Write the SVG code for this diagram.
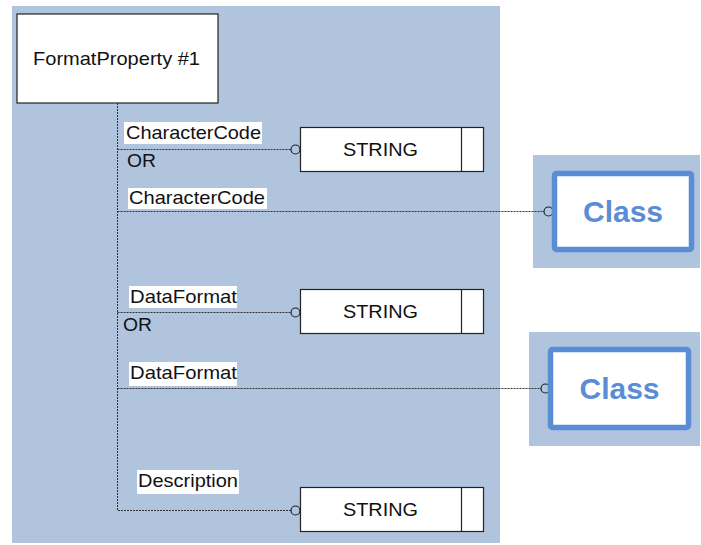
<svg xmlns="http://www.w3.org/2000/svg" width="701" height="545" viewBox="0 0 701 545">
<style>
.bg{fill:#B0C4DE}
.box{fill:#fff;stroke:#222;stroke-width:1.2}
.t{font-family:"Liberation Sans",Arial,sans-serif;font-size:18.5px;fill:#111}
.lbl{fill:#fff}
.cls{fill:#fff;stroke:#5A8DD6;stroke-width:5.5}
.ct{font-family:"Liberation Sans",Arial,sans-serif;font-size:30px;font-weight:bold;fill:#5A8DD6}
.c{fill:none;stroke:#333;stroke-dasharray:2,1;stroke-width:1}
.end{fill:#B0C4DE;stroke:#222;stroke-width:1.2}
</style>
<rect class="bg" x="12" y="6" width="488" height="537"/>
<rect class="bg" x="533" y="155" width="167" height="113"/>
<rect class="bg" x="529" y="332" width="171" height="114"/>
<g id="connectors">
<path class="c" d="M117.5,103 V510.5 H291"/>
<path class="c" d="M117.5,149.5 H291"/>
<path class="c" d="M117.5,211.5 H544"/>
<path class="c" d="M117.5,312.5 H291"/>
<path class="c" d="M117.5,388.5 H541"/>
<circle class="end" cx="295.5" cy="149.5" r="4.5"/>
<circle class="end" cx="548.5" cy="211.5" r="4.5"/>
<circle class="end" cx="295.5" cy="312.5" r="4.5"/>
<circle class="end" cx="545.5" cy="388.5" r="4.5"/>
<circle class="end" cx="295.5" cy="510.5" r="4.5"/>
<rect class="lbl" x="124" y="122" width="138" height="22"/>
<text class="t" x="126" y="138.5" textLength="135" lengthAdjust="spacingAndGlyphs">CharacterCode</text>
<text class="t" x="127" y="167" textLength="29" lengthAdjust="spacingAndGlyphs">OR</text>
<rect class="lbl" x="128" y="188" width="139" height="21"/>
<text class="t" x="129" y="204" textLength="136" lengthAdjust="spacingAndGlyphs">CharacterCode</text>
<rect class="lbl" x="129" y="286" width="108" height="22"/>
<text class="t" x="130" y="302.5" textLength="107" lengthAdjust="spacingAndGlyphs">DataFormat</text>
<text class="t" x="123" y="331" textLength="29" lengthAdjust="spacingAndGlyphs">OR</text>
<rect class="lbl" x="129" y="362" width="108" height="24"/>
<text class="t" x="130" y="379" textLength="107" lengthAdjust="spacingAndGlyphs">DataFormat</text>
<rect class="lbl" x="137" y="470" width="102" height="24"/>
<text class="t" x="138" y="487" textLength="100" lengthAdjust="spacingAndGlyphs">Description</text>
</g>
<g id="formatproperty">
<rect class="box" x="17" y="14" width="201" height="89"/>
<text class="t" x="33" y="64.5" textLength="167" lengthAdjust="spacingAndGlyphs">FormatProperty #1</text>
</g>
<g id="string1">
<rect class="box" x="300.5" y="127.5" width="183" height="44"/>
<line class="box" x1="461.5" y1="127.5" x2="461.5" y2="171.5"/>
<text class="t" x="343" y="156" textLength="75" lengthAdjust="spacingAndGlyphs">STRING</text>
</g>
<g id="class1">
<rect class="cls" x="554.5" y="173.5" width="137" height="76" rx="2"/>
<text class="ct" x="623" y="221.5" text-anchor="middle">Class</text>
</g>
<g id="string2">
<rect class="box" x="300.5" y="289.5" width="183" height="44"/>
<line class="box" x1="461.5" y1="289.5" x2="461.5" y2="333.5"/>
<text class="t" x="343" y="318" textLength="75" lengthAdjust="spacingAndGlyphs">STRING</text>
</g>
<g id="class2">
<rect class="cls" x="550.5" y="349.5" width="138" height="78" rx="2"/>
<text class="ct" x="619.5" y="398.5" text-anchor="middle">Class</text>
</g>
<g id="string3">
<rect class="box" x="300.5" y="487.5" width="183" height="44"/>
<line class="box" x1="461.5" y1="487.5" x2="461.5" y2="531.5"/>
<text class="t" x="343" y="516" textLength="75" lengthAdjust="spacingAndGlyphs">STRING</text>
</g>
</svg>
